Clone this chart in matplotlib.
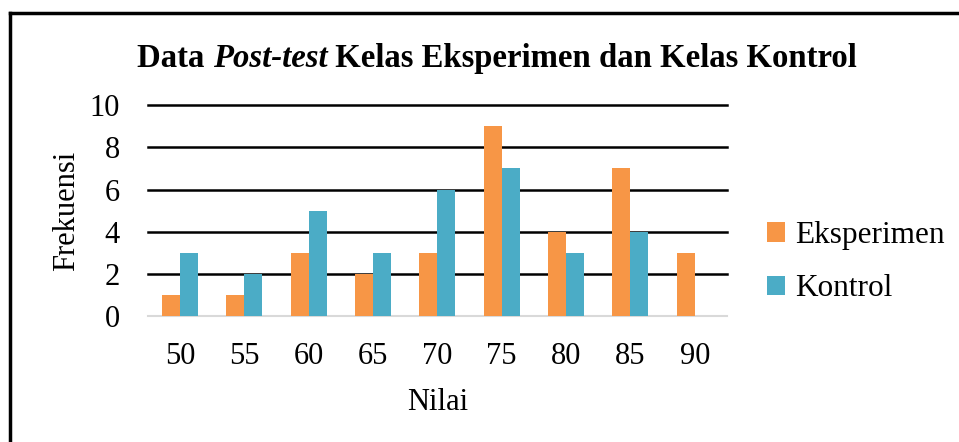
import matplotlib

matplotlib.use("Agg")

import matplotlib.pyplot as plt
import numpy as np
from matplotlib.lines import Line2D

nilai = ["50", "55", "60", "65", "70", "75", "80", "85", "90"]
eksperimen = [1, 1, 3, 2, 3, 9, 4, 7, 3]
kontrol = [3, 2, 5, 3, 6, 7, 3, 4, 0]

plt.rcParams["font.family"] = ["Liberation Serif", "DejaVu Serif"]

fig = plt.figure(figsize=(9.59, 4.42), dpi=100)
ax = fig.add_axes([0.154, 0.285, 0.604, 0.477])

x = np.arange(len(nilai))
w = 0.28
ax.bar(x - w / 2, eksperimen, w, color="#F79646", label="Eksperimen", zorder=3)
ax.bar(x + w / 2, kontrol, w, color="#4BACC6", label="Kontrol", zorder=3)

ax.set_xlim(-0.5, len(nilai) - 0.5)
ax.set_ylim(0, 10)
ax.set_yticks(range(0, 11, 2))
ax.set_xticks(x)
ax.set_xticklabels(nilai)
ax.tick_params(axis="x", length=0, labelsize=22, pad=19)
ax.tick_params(axis="y", length=0, labelsize=22, pad=20)
for y in range(2, 11, 2):
    ax.axhline(y, color="black", lw=1.8, zorder=1, clip_on=False)
for s in ["top", "right", "left"]:
    ax.spines[s].set_visible(False)
ax.spines["bottom"].set_color("#d9d9d9")
ax.spines["bottom"].set_linewidth(1.5)

ax.set_xlabel("Nilai", fontsize=22, labelpad=12)
ax.set_ylabel("Frekuensi", fontsize=22, labelpad=6)

# title: bold with the word "Post-test" in bold italic
parts = [("Data ", "normal"), ("Post-test", "italic"),
         (" Kelas Eksperimen dan Kelas Kontrol", "normal")]
renderer = fig.canvas.get_renderer()
texts = []
for s, st in parts:
    t = fig.text(0, 0.868, s, ha="left", va="center", fontsize=23.6,
                 fontweight="bold", fontstyle=st)
    texts.append(t)
widths = [t.get_window_extent(renderer).width for t in texts]
total = sum(widths)
xpos = 497 - total / 2
for t, wd in zip(texts, widths):
    t.set_x(xpos / fig.bbox.width)
    xpos += wd

ax.legend(loc="center left", bbox_to_anchor=(1.02, 0.255), frameon=False,
          fontsize=22.5, handlelength=0.6, handleheight=0.6, handletextpad=0.3,
          labelspacing=0.78)

# outer frame (top and left edges only)
fig.add_artist(Line2D([0.0104, 1.0], [0.9706, 0.9706], color="black", lw=2.5,
                      transform=fig.transFigure))
fig.add_artist(Line2D([0.0104, 0.0104], [0.0, 0.9706], color="black", lw=2.5,
                      transform=fig.transFigure))

fig.savefig("out.png", dpi=100)
